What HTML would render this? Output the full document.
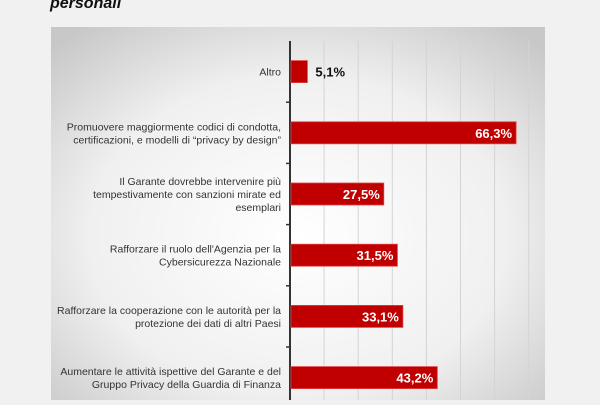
<!DOCTYPE html>
<html><head><meta charset="utf-8"><style>
body{margin:0;width:600px;height:400px;overflow:hidden;background:#f1f1f1;font-family:"Liberation Sans",sans-serif}
</style></head><body>
<svg id="c" width="600" height="400">
<defs><radialGradient id="g" cx="0.5" cy="0.55" r="0.7"><stop offset="0" stop-color="#ffffff"/><stop offset="0.6" stop-color="#f0f0f0"/><stop offset="1" stop-color="#c8c8c8"/></radialGradient></defs>
<text x="50" y="8" font-size="16" font-weight="bold" font-style="italic" fill="#111">personali</text>
<rect x="51" y="27" width="494" height="380" fill="url(#g)"/>
<g id="grid"></g><g id="bars"></g>
</svg>
<script>
const categories=["Altro","Promuovere maggiormente codici di condotta,|certificazioni, e modelli di “privacy by design”","Il Garante dovrebbe intervenire più|tempestivamente con sanzioni mirate ed|esemplari","Rafforzare il ruolo dell'Agenzia per la|Cybersicurezza Nazionale","Rafforzare la cooperazione con le autorità per la|protezione dei dati di altri Paesi","Aumentare le attività ispettive del Garante e del|Gruppo Privacy della Guardia di Finanza"];
const values=[5.1,66.3,27.5,31.5,33.1,43.2];
const labels=["5,1%","66,3%","27,5%","31,5%","33,1%","43,2%"];
const gridTicks=[10,20,30,40,50,60,70];
const NS="http://www.w3.org/2000/svg";
const x0=290,k=3.41,top0=41,step=61.2,bh=22;
const xs=v=>x0+v*k, yc=i=>top0+step*(i+0.5);
function mk(t,a,p){const e=document.createElementNS(NS,t);for(const n in a)e.setAttribute(n,a[n]);p.appendChild(e);return e;}
const grid=document.getElementById('grid'),bars=document.getElementById('bars');
gridTicks.forEach(t=>{const l=mk('line',{x1:xs(t),x2:xs(t),y1:top0,y2:400,stroke:'#d4d4d4','stroke-width':1},grid);

});
const ax=mk('line',{x1:x0,x2:x0,y1:top0,y2:400,stroke:'#333','stroke-width':2},grid);


categories.forEach((c,i)=>{
 const y=yc(i);
 const tk=mk('line',{x1:x0-4,x2:x0,y1:top0+step*(i+1),y2:top0+step*(i+1),stroke:'#333','stroke-width':1.5},grid);
 
 
 const r=mk('rect',{x:x0+1,y:y-bh/2,width:xs(values[i])-x0-1,height:bh,fill:'#c00000',stroke:'#e04040','stroke-width':0.8},bars);
 
 
 const inside=values[i]>15;
 const vl=mk('text',{x:inside?xs(values[i])-4:xs(values[i])+8,y:y+5,'font-size':13,'font-weight':'bold','text-anchor':inside?'end':'start',fill:inside?'#fff':'#111'},bars);
 vl.textContent=labels[i];
 
 
 const lines=c.split('|');
 const t=mk('text',{x:281,'font-size':10.5,'text-anchor':'end',fill:'#333'},bars);
 
 
 lines.forEach((s,j)=>{const ts=mk('tspan',{x:281,y:y+4+(j-(lines.length-1)/2)*13},t);ts.textContent=s;});
});
</script>
</body></html>
